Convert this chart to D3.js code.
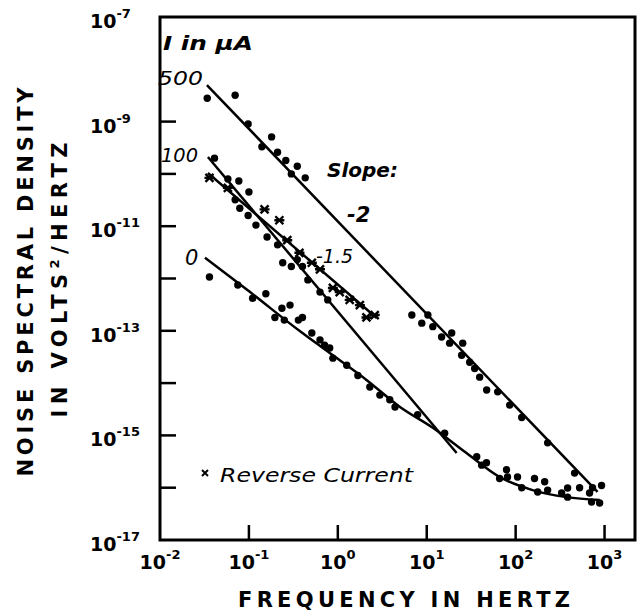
<!DOCTYPE html>
<head>
<meta charset="utf-8">
<script src="https://d3js.org/d3.v7.min.js"></script>
<style>
    body{margin:0;background:#fff;}
    text{font-family:"DejaVu Sans",sans-serif;fill:#000;}
    .ann{font-style:italic;}
    .tick{font-size:19px;font-weight:bold;}
</style>
</head>
<body>
<div id="container"></div>
<script>
    // axis ticks
    var xTickVals = [1e-2, 1e-1, 1e0, 1e1, 1e2, 1e3];
    var xTickExp = ['-2', '-1', '0', '1', '2', '3'];
    var yLabelVals = [1e-7, 1e-9, 1e-11, 1e-13, 1e-15, 1e-17];
    var yLabelExp = ['-7', '-9', '-11', '-13', '-15', '-17'];
    var yTickVals = [1e-9, 1e-10, 1e-11, 1e-12, 1e-13, 1e-14, 1e-15, 1e-16];

    // I = 500 uA, measured points [frequency, density]
    var dots500 = [[0.034,2.8e-9],[0.070,3.2e-9],[0.098,9.0e-10],[0.14,3.3e-10],[0.18,5.1e-10],[0.21,2.6e-10],
        [0.26,1.8e-10],[0.30,1.0e-10],[0.35,1.4e-10],[0.43,8.4e-11],
        [6.8,2.0e-13],[8.8,1.4e-13],[10.3,2.0e-13],[11.7,1.2e-13],[14.7,7.6e-14],[18.1,5.8e-14],[19.1,9.1e-14],
        [25.4,5.8e-14],[24.7,3.4e-14],[30.4,2.5e-14],[34.6,1.9e-14],[39.4,1.3e-14],[47.2,7.4e-15],[62.8,6.8e-15],
        [85.7,3.8e-15],[117,2.2e-15],[229,7.2e-16],[460,1.9e-16],[524,1.0e-16],[733,1.0e-16],[925,1.1e-16],[678,7.9e-17]];
    // I = 100 uA, forward
    var dots100 = [[0.041,2.0e-10],[0.058,8.0e-11],[0.077,7.3e-11],[0.10,4.5e-11],[0.070,3.2e-11],[0.079,2.2e-11],
        [0.098,1.6e-11],[0.12,1.05e-11],[0.16,6.2e-12],[0.21,4.4e-12],[0.24,2.0e-12],[0.30,1.7e-12],[0.35,2.3e-12],
        [0.40,1.7e-12],[0.46,9.4e-13],[0.63,5.5e-13],[0.77,3.9e-13],[7.9,2.5e-15],[15.9,1.1e-15]];
    // I = 100 uA, reverse current
    var crossRev = [[0.036,8.4e-11],[0.058,5.4e-11],[0.15,2.1e-11],[0.22,1.3e-11],[0.27,5.4e-12],[0.37,3.1e-12],
        [0.51,2.0e-12],[0.63,1.5e-12],[0.88,6.6e-13],[1.05,5.5e-13],[1.36,3.9e-13],[1.77,3.1e-13],[2.1,1.8e-13],[2.6,2.0e-13]];
    // I = 0
    var dots0 = [[0.036,1.07e-12],[0.075,7.5e-13],[0.11,4.2e-13],[0.155,5.1e-13],[0.196,1.8e-13],[0.235,2.7e-13],
        [0.25,1.6e-13],[0.29,3.1e-13],[0.36,1.6e-13],[0.40,1.8e-13],[0.51,9.1e-14],[0.63,6.7e-14],[0.71,5.3e-14],
        [0.81,4.7e-14],[0.88,3.0e-14],[1.26,2.2e-14],[1.68,1.4e-14],[2.29,8.4e-15],[2.97,5.9e-15],[3.84,4.8e-15],
        [4.4,3.5e-15],[36.5,3.9e-16],[41.5,2.7e-16],[47,3.0e-16],[66,1.5e-16],[79,2.2e-16],[81,1.6e-16],[105,1.6e-16],
        [117,1.0e-16],[163,1.5e-16],[177,8.3e-17],[212,1.3e-16],[229,9.0e-17],[329,7.9e-17],[384,9.9e-17],
        [384,6.6e-17],[714,5.3e-17],[880,5.1e-17]];

    // fitted lines
    var line500 = [[0.0337,5.0e-9],[834,8.3e-17]];
    var line100 = [[0.0346,2.1e-10],[21.7,4.6e-16]];
    var lineRev = [[0.0346,1.04e-10],[2.74,1.76e-13]];
    var curve0 = [[0.032,2.5e-12],[0.103,5.5e-13],[0.37,1.0e-13],[0.88,3.4e-14],[2.1,1.15e-14],[5.0,3.5e-15],
        [11.7,1.4e-15],[28,4.6e-16],[66,1.6e-16],[155,9.0e-17],[374,6.6e-17],[880,5.8e-17]];

    var svg = d3.select('#container').append('svg').attr('width',637).attr('height',611);
    var x = d3.scaleLog().domain([1e-2, 2200]).range([160, 635]);
    var y = d3.scaleLog().domain([1e-17, 1e-7]).range([540, 17]);

    //边框
    svg.append('rect').attr('x',x(1e-2)).attr('y',y(1e-7))
        .attr('width',x(2200)-x(1e-2)).attr('height',y(1e-17)-y(1e-7))
        .attr('fill','none').attr('stroke','#000').attr('stroke-width',3);

    //刻度
    svg.selectAll('.yt').data(yTickVals).enter().append('line')
        .attr('x1',x(1e-2)).attr('x2',x(1e-2)+16)
        .attr('y1',d => y(d)).attr('y2',d => y(d))
        .attr('stroke','#000').attr('stroke-width',2.5);
    svg.selectAll('.xt').data(xTickVals.slice(1)).enter().append('line')
        .attr('x1',d => x(d)).attr('x2',d => x(d))
        .attr('y1',y(1e-17)).attr('y2',y(1e-17)-15)
        .attr('stroke','#000').attr('stroke-width',2.5);

    var yl = svg.selectAll('.yl').data(yLabelVals).enter().append('text').attr('class','tick')
        .attr('x',90).attr('y',d => y(d)+11);
    yl.append('tspan').text('10');
    yl.append('tspan').text((d,i) => yLabelExp[i]).attr('dy',-10).style('font-size','13px');

    var xl = svg.selectAll('.xl').data(xTickVals).enter().append('text').attr('class','tick')
        .attr('x',d => x(d)).attr('y',569).attr('text-anchor','middle');
    xl.append('tspan').text('10');
    xl.append('tspan').text((d,i) => xTickExp[i]).attr('dy',-10).style('font-size','13px');

    //坐标轴标题
    svg.append('text').text('FREQUENCY IN HERTZ').attr('x',404).attr('y',607)
        .attr('text-anchor','middle').attr('textLength',332).attr('lengthAdjust','spacing')
        .style('font-size','21px').style('font-weight','bold');
    svg.append('text').text('NOISE SPECTRAL DENSITY').attr('transform','translate(33,282) rotate(-90)')
        .attr('text-anchor','middle').attr('textLength',389).attr('lengthAdjust','spacing')
        .style('font-size','21px').style('font-weight','bold');
    var t2 = svg.append('text').attr('transform','translate(67,280) rotate(-90)')
        .attr('text-anchor','middle').attr('textLength',275).attr('lengthAdjust','spacing')
        .style('font-size','21px').style('font-weight','bold');
    t2.append('tspan').text('IN VOLTS');
    t2.append('tspan').text('2').attr('dy',-8).style('font-size','13px');
    t2.append('tspan').text('/HERTZ').attr('dy',8);

    //拟合线
    var line = d3.line().x(d => x(d[0])).y(d => y(d[1]));
    var curve = d3.line().x(d => x(d[0])).y(d => y(d[1])).curve(d3.curveMonotoneX);
    [line500, line100, lineRev].forEach(function(l){
        svg.append('path').attr('d',line(l)).attr('fill','none').attr('stroke','#000').attr('stroke-width',2.5);
    });
    svg.append('path').attr('d',curve(curve0)).attr('fill','none').attr('stroke','#000').attr('stroke-width',2.5);

    //数据点
    var dotG = svg.append('g');
    [dots500, dots100, dots0].forEach(function(s){
        dotG.selectAll(null).data(s).enter().append('circle')
            .attr('cx',d => x(d[0])).attr('cy',d => y(d[1])).attr('r',3.7).attr('fill','#000');
    });
    var crossPath = 'M-4,-4L4,4M4,-4L-4,4M-5,0L5,0';
    svg.append('g').selectAll('path').data(crossRev).enter().append('path')
        .attr('d',crossPath).attr('transform',d => 'translate(' + x(d[0]) + ',' + y(d[1]) + ')')
        .attr('stroke','#000').attr('stroke-width',2.4);

    //注释
    svg.append('text').attr('class','ann').text('I in μA').attr('x',163).attr('y',50)
        .attr('textLength',90).attr('lengthAdjust','spacingAndGlyphs').style('font-size','20px').style('font-weight','bold');
    svg.append('text').attr('class','ann').text('500').attr('x',158).attr('y',85)
        .attr('textLength',45).attr('lengthAdjust','spacingAndGlyphs').style('font-size','20px');
    svg.append('text').attr('class','ann').text('100').attr('x',161).attr('y',162)
        .attr('textLength',37).attr('lengthAdjust','spacingAndGlyphs').style('font-size','20px');
    svg.append('text').attr('class','ann').text('0').attr('x',185).attr('y',265).style('font-size','21px');
    svg.append('text').attr('class','ann').text('Slope:').attr('x',327).attr('y',177).style('font-size','20px').style('font-weight','bold');
    svg.append('text').attr('class','ann').text('-2').attr('x',347).attr('y',222).style('font-size','21px').style('font-weight','bold');
    svg.append('text').attr('class','ann').text('-1.5').attr('x',316).attr('y',263).style('font-size','19px');
    svg.append('path').attr('d','M-3,-3L3,3M3,-3L-3,3').attr('transform','translate(205,473)')
        .attr('stroke','#000').attr('stroke-width',2);
    svg.append('text').attr('class','ann').text('Reverse Current').attr('x',220).attr('y',482)
        .attr('textLength',193).attr('lengthAdjust','spacingAndGlyphs').style('font-size','20px');
</script>
</body>
